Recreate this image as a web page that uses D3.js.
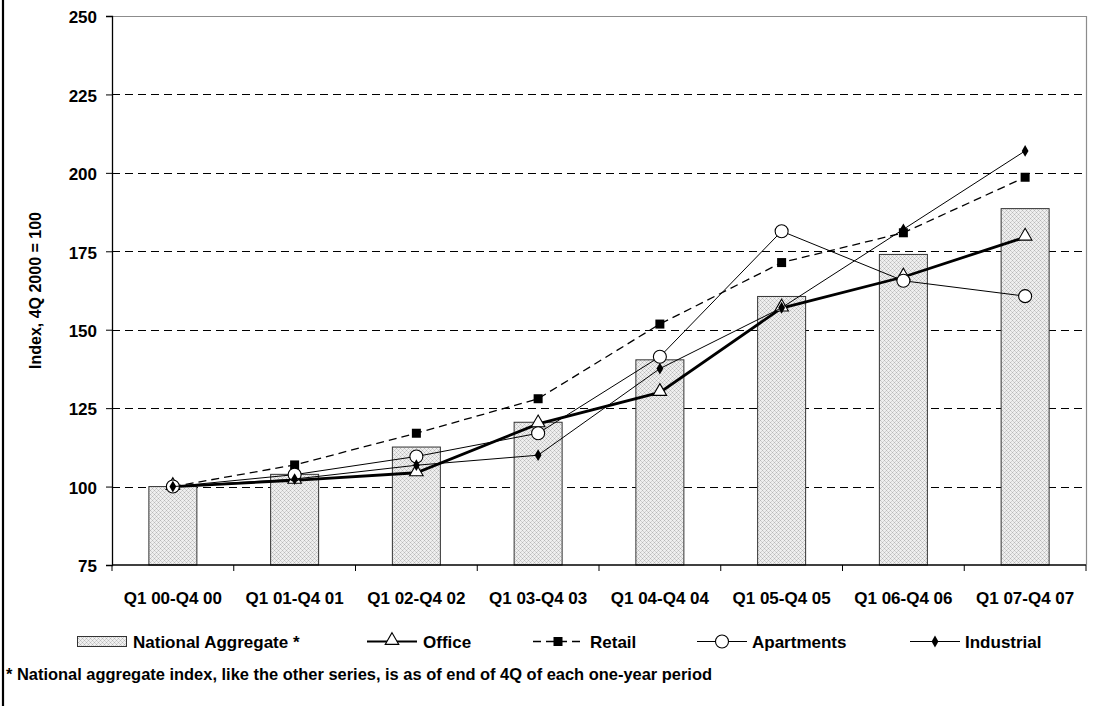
<!DOCTYPE html>
<html>
<head>
<meta charset="utf-8">
<script src="https://cdn.jsdelivr.net/npm/d3@7/dist/d3.min.js"></script>
<style>
  html, body { margin: 0; padding: 0; background: #fff; }
  svg text { font-family: "Liberation Sans", Arial, sans-serif; font-weight: bold; fill: #000; }
</style>
</head>
<body>
<svg id="chart" width="1110" height="706"></svg>
<script>
// Periods on the category axis
const periods = ["Q1 00-Q4 00", "Q1 01-Q4 01", "Q1 02-Q4 02", "Q1 03-Q4 03",
                 "Q1 04-Q4 04", "Q1 05-Q4 05", "Q1 06-Q4 06", "Q1 07-Q4 07"];
// Index values, 4Q 2000 = 100
const nationalAggregate = [100, 103.9, 112.6, 120.5, 140.4, 160.6, 174.0, 188.6];
const office      = [100, 102.0, 104.4, 120.0, 130.0, 156.9, 166.8, 179.5];
const retail      = [100, 106.9, 117.0, 128.0, 151.8, 171.4, 180.9, 198.6];
const apartments  = [100, 103.8, 109.6, 117.0, 141.4, 181.4, 165.6, 160.7];
const industrial  = [100, 102.4, 106.8, 110.0, 137.6, 157.0, 182.0, 207.0];
const yTicks = [75, 100, 125, 150, 175, 200, 225, 250];

const svg = d3.select("#chart");
const plotLeft = 112, plotRight = 1086, plotTop = 16, plotBottom = 565;

const x = d3.scaleBand().domain(periods).range([plotLeft, plotRight]).paddingInner(0).paddingOuter(0);
const y = d3.scaleLinear().domain([75, 250]).range([plotBottom, plotTop]);

// Left frame rule
svg.append("line").attr("x1", 3).attr("x2", 3).attr("y1", 0).attr("y2", 706)
  .attr("stroke", "#000").attr("stroke-width", 2.2);

// Crosshatch fill for the aggregate bars
const defs = svg.append("defs");
const pat = defs.append("pattern").attr("id", "hatch").attr("patternUnits", "userSpaceOnUse")
  .attr("width", 4).attr("height", 4);
pat.append("rect").attr("width", 4).attr("height", 4).attr("fill", "#efefef");
[[0, 0, "#b8b8b8"], [2, 2, "#b8b8b8"], [1, 1, "#d2d2d2"], [3, 3, "#d2d2d2"], [3, 1, "#d2d2d2"], [1, 3, "#d2d2d2"]]
  .forEach(([px, py, c]) => pat.append("rect").attr("x", px).attr("y", py)
    .attr("width", 1).attr("height", 1).attr("fill", c));

// Horizontal gridlines
svg.append("g").selectAll("line")
  .data(yTicks.filter(t => t > 75 && t < 250))
  .join("line")
  .attr("x1", plotLeft).attr("x2", plotRight)
  .attr("y1", d => Math.round(y(d)) + 0.5).attr("y2", d => Math.round(y(d)) + 0.5)
  .attr("stroke", "#000").attr("stroke-width", 1).attr("stroke-dasharray", "8,5");

// Plot frame top and right
svg.append("line").attr("x1", plotLeft).attr("x2", plotRight).attr("y1", plotTop + 0.5).attr("y2", plotTop + 0.5)
  .attr("stroke", "#8c8c8c").attr("stroke-width", 1.2);
svg.append("line").attr("x1", plotRight + 0.5).attr("x2", plotRight + 0.5).attr("y1", plotTop).attr("y2", plotBottom)
  .attr("stroke", "#8c8c8c").attr("stroke-width", 1.2);

// Bars
const barW = 48;
svg.append("g").selectAll("rect")
  .data(periods.map((p, i) => ({ p, v: nationalAggregate[i] })))
  .join("rect")
  .attr("x", d => x(d.p) + x.bandwidth() / 2 - barW / 2)
  .attr("y", d => y(d.v))
  .attr("width", barW)
  .attr("height", d => y(75) - y(d.v))
  .attr("fill", "url(#hatch)")
  .attr("stroke", "#333").attr("stroke-width", 1);

// Y axis
const yAxis = svg.append("g").attr("transform", `translate(${plotLeft},0)`)
  .call(d3.axisLeft(y).tickValues(yTicks).tickSize(6).tickPadding(9));
yAxis.select(".domain").attr("stroke", "#000").attr("stroke-width", 1.3);
yAxis.selectAll(".tick line").attr("stroke", "#000");
yAxis.selectAll("text").style("font-size", "17px").attr("dy", "0.4em");

// X axis with ticks on category boundaries
svg.append("line").attr("x1", plotLeft).attr("x2", plotRight).attr("y1", plotBottom).attr("y2", plotBottom)
  .attr("stroke", "#000").attr("stroke-width", 1.5);
const edges = periods.map(p => x(p)).concat([plotRight]);
svg.append("g").selectAll("line").data(edges).join("line")
  .attr("x1", d => d).attr("x2", d => d).attr("y1", plotBottom).attr("y2", plotBottom + 6)
  .attr("stroke", "#000").attr("stroke-width", 1);
svg.append("g").selectAll("text").data(periods).join("text")
  .attr("x", d => x(d) + x.bandwidth() / 2)
  .attr("y", 604)
  .attr("text-anchor", "middle")
  .style("font-size", "17px")
  .text(d => d);

// Y axis title
svg.append("text")
  .attr("transform", `translate(41,${(plotTop + plotBottom) / 2}) rotate(-90)`)
  .attr("text-anchor", "middle")
  .style("font-size", "16px")
  .text("Index, 4Q 2000 = 100");

// Line series
const series = [
  { name: "Office", values: office, width: 2.8, legendWidth: 2, dash: null, marker: "triangle" },
  { name: "Retail", values: retail, width: 1.3, legendWidth: 1.3, dash: "8,5", marker: "square" },
  { name: "Apartments", values: apartments, width: 1, legendWidth: 1, dash: null, marker: "circle" },
  { name: "Industrial", values: industrial, width: 1, legendWidth: 1, dash: null, marker: "diamond" }
];

const line = d3.line()
  .x((d, i) => x(periods[i]) + x.bandwidth() / 2)
  .y(d => y(d));

function drawMarker(g, type, cx, cy) {
  if (type === "triangle") {
    g.append("path").attr("d", d3.symbol(d3.symbolTriangle, 80)())
      .attr("transform", `translate(${cx},${cy - 1})`)
      .attr("fill", "#fff").attr("stroke", "#000").attr("stroke-width", 1.1);
  } else if (type === "square") {
    g.append("rect").attr("x", cx - 4.5).attr("y", cy - 4.5).attr("width", 9).attr("height", 9)
      .attr("fill", "#000");
  } else if (type === "circle") {
    g.append("circle").attr("cx", cx).attr("cy", cy).attr("r", 6.5)
      .attr("fill", "#fff").attr("stroke", "#000").attr("stroke-width", 1.1);
  } else if (type === "diamond") {
    g.append("path").attr("d", d3.symbol(d3.symbolDiamond, 40)())
      .attr("transform", `translate(${cx},${cy})`)
      .attr("fill", "#000");
  }
}

series.forEach(s => {
  const g = svg.append("g");
  g.append("path").datum(s.values).attr("d", line)
    .attr("fill", "none").attr("stroke", "#000").attr("stroke-width", s.width)
    .attr("stroke-dasharray", s.dash);
  s.values.forEach((v, i) => drawMarker(g, s.marker, x(periods[i]) + x.bandwidth() / 2, y(v)));
});

// Legend
const ly = 641.5;
const legend = svg.append("g");
legend.append("rect").attr("x", 77.5).attr("y", 636.5).attr("width", 49).attr("height", 10)
  .attr("fill", "url(#hatch)").attr("stroke", "#333").attr("stroke-width", 1);
legend.append("text").attr("x", 133).attr("y", 648).style("font-size", "17px").text("National Aggregate *");

const legendItems = [
  { s: series[0], x0: 367, tx: 423 },
  { s: series[1], x0: 533, tx: 590 },
  { s: series[2], x0: 697, tx: 752 },
  { s: series[3], x0: 910, tx: 965 }
];
legendItems.forEach(it => {
  legend.append("line").attr("x1", it.x0).attr("x2", it.x0 + 50).attr("y1", ly).attr("y2", ly)
    .attr("stroke", "#000").attr("stroke-width", it.s.legendWidth).attr("stroke-dasharray", it.s.dash);
  drawMarker(legend, it.s.marker, it.x0 + 25, ly);
  legend.append("text").attr("x", it.tx).attr("y", 648).style("font-size", "17px").text(it.s.name);
});

// Footnote
svg.append("text").attr("x", 6).attr("y", 680).style("font-size", "16px")
  .attr("textLength", 706).attr("lengthAdjust", "spacingAndGlyphs")
  .text("* National aggregate index, like the other series, is as of end of 4Q of each one-year period");
</script>
</body>
</html>
